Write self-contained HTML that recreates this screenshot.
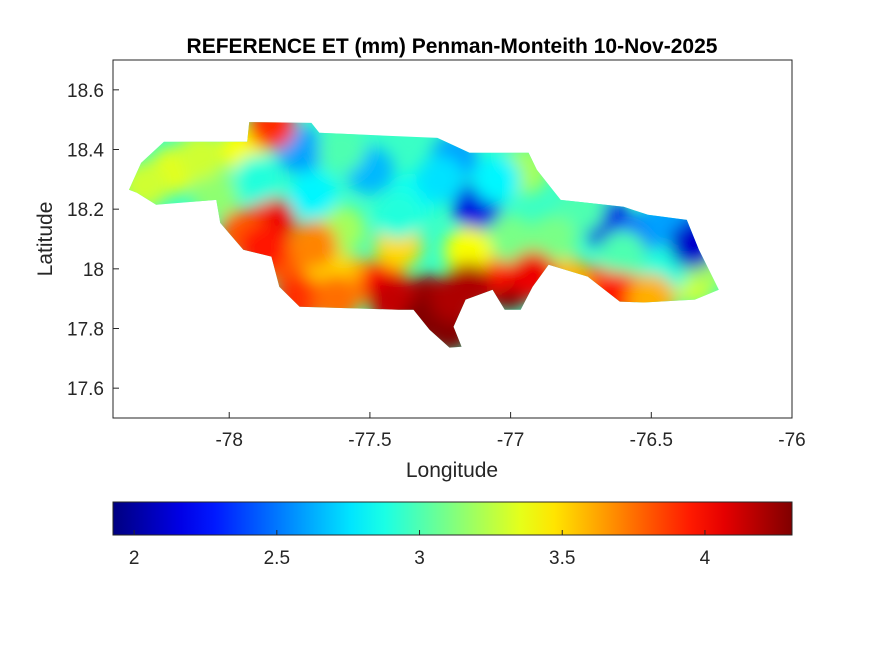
<!DOCTYPE html>
<html><head><meta charset="utf-8"><style>
body{margin:0;background:#fff;}
svg text{font-family:"Liberation Sans",sans-serif;fill:#262626;}
</style></head><body>
<svg id="fig" width="875" height="656">
<defs>
<filter id="blur" x="-20%" y="-20%" width="140%" height="140%"><feGaussianBlur stdDeviation="8"/></filter>
<clipPath id="island"><polygon id="clipPoly"/></clipPath>
<linearGradient id="cbGrad" x1="0" x2="1" y1="0" y2="0"></linearGradient>
</defs>
<rect x="113" y="60" width="679" height="358" fill="#fff" stroke="#262626" stroke-width="1"/>
<g id="mapLayer" clip-path="url(#island)"></g>
<g id="axes"></g>
<text x="452" y="53" text-anchor="middle" font-size="21" font-weight="bold" style="fill:#000">REFERENCE ET (mm) Penman-Monteith 10-Nov-2025</text>
<text x="452" y="477" text-anchor="middle" font-size="21">Longitude</text>
<text transform="translate(52,239) rotate(-90)" text-anchor="middle" font-size="21">Latitude</text>
<rect x="113" y="502" width="679" height="33" fill="url(#cbGrad)" stroke="#262626" stroke-width="1"/>
<g id="cbAxis"></g>
</svg>
<script>
const xTicks=[-78,-77.5,-77,-76.5,-76];
const xTickLabels=["-78","-77.5","-77","-76.5","-76"];
const yTicks=[17.6,17.8,18,18.2,18.4,18.6];
const yTickLabels=["17.6","17.8","18","18.2","18.4","18.6"];
const cbTicks=[2,2.5,3,3.5,4];
const cbTickLabels=["2","2.5","3","3.5","4"];
const cbMin=1.926, cbMax=4.305;
// island outline (lon, lat)
const outlineLon=[-78.356,-78.313,-78.232,-77.936,-77.929,-77.708,-77.680,-77.260,-77.146,-76.936,-76.907,-76.822,-76.598,-76.512,-76.374,-76.331,-76.260,-76.345,-76.527,-76.612,-76.726,-76.865,-76.922,-76.964,-77.021,-77.064,-77.160,-77.203,-77.174,-77.217,-77.288,-77.345,-77.398,-77.750,-77.822,-77.850,-77.950,-78.032,-78.046,-78.260,-78.328];
const outlineLat=[18.265,18.355,18.426,18.426,18.492,18.489,18.456,18.439,18.389,18.389,18.332,18.231,18.208,18.181,18.164,18.064,17.930,17.897,17.887,17.890,17.974,18.014,17.940,17.863,17.863,17.930,17.897,17.806,17.739,17.736,17.796,17.863,17.863,17.873,17.940,18.041,18.064,18.154,18.231,18.215,18.255];
// ET sample values (lon, lat, mm)
const ptLon=[-77.30,-77.22,-77.01,-77.08,-77.85,-77.80,-77.55,-77.95,-76.70,-76.55,-76.80,-77.45,-77.75,-77.50,-77.20,-77.12,-76.66,-76.39,-76.55,-77.35,-78.20,-77.95,-77.85,-78.30,-76.95,-76.87,-76.35,-78.05,-77.65,-77.60,-77.00,-76.45,-77.40,-76.60,-77.90,-77.60,-77.25,-77.05,-76.75,-76.45,-78.10,-77.15,-77.40,-76.85,-77.70,-76.30,
 -77.75,-77.62,-77.42,-77.15,-76.92,-76.62,-77.88,-77.70,-76.50,-77.30,-76.35,-77.20];
const ptLat=[17.90,17.80,17.94,17.99,18.16,18.02,17.96,18.12,17.93,17.90,17.96,17.95,18.40,18.33,18.37,18.21,18.15,18.12,18.10,18.24,18.33,18.40,18.48,18.28,18.33,18.02,17.96,18.25,18.00,18.13,18.10,18.00,18.08,18.05,18.30,18.40,18.30,18.30,18.20,18.16,18.38,18.06,18.18,18.10,18.25,18.02,
 17.90,17.90,17.89,17.94,17.98,17.91,18.07,18.08,17.90,17.83,18.08,17.90];
const ptVal=[4.25,4.3,4.3,3.95,4.05,3.8,3.6,3.8,3.85,3.7,3.6,4.0,2.6,2.65,2.6,2.15,2.15,2.2,2.4,2.85,3.35,3.4,3.9,3.3,3.2,3.55,3.3,3.15,3.5,3.2,3.1,2.9,3.5,3.0,2.9,3.0,2.75,2.8,3.0,2.6,3.3,3.4,2.9,3.1,2.8,3.2,
 3.9,3.75,4.15,4.2,4.05,3.95,3.95,3.7,3.6,4.3,2.1,4.2];
const baseVal=2.95;

const X0=113,X1=792,Y0=60,Y1=418,lonMin=-78.413,lonMax=-76,latMin=17.5,latMax=18.7;
const xs=v=>X0+(v-lonMin)/(lonMax-lonMin)*(X1-X0);
const ys=v=>Y1-(v-latMin)/(latMax-latMin)*(Y1-Y0);
const cs=v=>113+(v-cbMin)/(cbMax-cbMin)*679;
function jet(t){t=Math.max(0,Math.min(1,t));
 const r=Math.max(0,Math.min(1,Math.min(4*t-1.5,-4*t+4.5)));
 const g=Math.max(0,Math.min(1,Math.min(4*t-0.5,-4*t+3.5)));
 const b=Math.max(0,Math.min(1,Math.min(4*t+0.5,-4*t+2.5)));
 return `rgb(${Math.round(r*255)},${Math.round(g*255)},${Math.round(b*255)})`;}
const col=v=>jet((v-cbMin)/(cbMax-cbMin));
const NS="http://www.w3.org/2000/svg";
function mk(tag,attrs,parent){const e=document.createElementNS(NS,tag);for(const k in attrs)e.setAttribute(k,attrs[k]);parent.appendChild(e);return e;}

document.getElementById('clipPoly').setAttribute('points',outlineLon.map((v,i)=>xs(v).toFixed(1)+','+ys(outlineLat[i]).toFixed(1)).join(' '));
const map=document.getElementById('mapLayer');
const base=mk('rect',{x:X0,y:Y0,width:X1-X0,height:Y1-Y0,fill:col(baseVal)},map);


const blobs=mk('g',{filter:'url(#blur)'},map);
ptVal.forEach((v,i)=>{
 const c=mk('circle',{cx:xs(ptLon[i]),cy:ys(ptLat[i]),r:24,fill:col(v)},blobs);
 
 
});
const ax=document.getElementById('axes');
xTicks.forEach((v,i)=>{
 mk('line',{x1:xs(v),x2:xs(v),y1:Y1,y2:Y1-6,stroke:'#262626'},ax);
 const t=mk('text',{x:xs(v),y:446,'text-anchor':'middle','font-size':19},ax);t.textContent=xTickLabels[i];
 
 
});
yTicks.forEach((v,i)=>{
 mk('line',{x1:X0,x2:X0+6,y1:ys(v),y2:ys(v),stroke:'#262626'},ax);
 const t=mk('text',{x:104,y:ys(v)+7,'text-anchor':'end','font-size':19},ax);t.textContent=yTickLabels[i];
 
 
});
const grad=document.getElementById('cbGrad');
for(let i=0;i<=20;i++){mk('stop',{offset:(i/20),'stop-color':jet(i/20)},grad);}
const cb=document.getElementById('cbAxis');
cbTicks.forEach((v,i)=>{
 mk('line',{x1:cs(v),x2:cs(v),y1:535,y2:530,stroke:'#262626'},cb);
 const t=mk('text',{x:cs(v),y:564,'text-anchor':'middle','font-size':19},cb);t.textContent=cbTickLabels[i];
 
 
});
</script>
</body></html>
